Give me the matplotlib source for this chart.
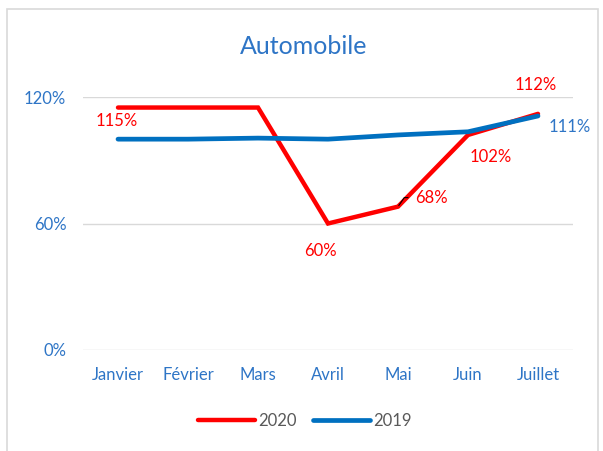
import matplotlib.pyplot as plt
from matplotlib.patches import Rectangle

mois = ['Janvier', 'Février', 'Mars', 'Avril', 'Mai', 'Juin', 'Juillet']
v2020 = [115, 115, 115, 60, 68, 102, 112]
v2019 = [100, 100, 100.5, 100, 102, 103.5, 111]
yticks = [0, 60, 120]

plt.rcParams['font.family'] = ['Lato', 'DejaVu Sans']

rouge = '#FF0000'
bleu = '#0070C0'
txt_bleu = '#2E75C6'
fs = 12

fig = plt.figure(figsize=(6.03, 4.51), dpi=100)
ax = fig.add_axes([83/603, 1-350/451, (573-83)/603, (350-97)/451])

x = range(len(mois))
ax.plot(x, v2020, color=rouge, lw=3.2, solid_capstyle='round', solid_joinstyle='miter', label='2020', zorder=3)
ax.plot(x, v2019, color=bleu, lw=3.4, solid_capstyle='round', solid_joinstyle='round', label='2019', zorder=4)

ax.set_xlim(-0.5, len(mois)-0.5)
ax.set_ylim(0, 120)
ax.set_yticks(yticks)
ax.set_yticklabels([f'{v}%' for v in yticks])
ax.set_xticks(list(x))
ax.set_xticklabels(mois)
ax.tick_params(length=0, labelsize=fs, colors=txt_bleu)
ax.tick_params(axis='x', pad=12)
ax.tick_params(axis='y', pad=12)
ax.grid(axis='y', color='#D9D9D9', lw=1)
ax.set_axisbelow(True)
for s in ax.spines.values():
    s.set_visible(False)

# etiquettes de donnees
def lab(i, vals, dx, dy, color, **kw):
    return ax.annotate(f'{round(vals[i])}%', (i, vals[i]), xytext=(dx, dy), textcoords='offset points',
                       ha='center', va='center', color=color, fontsize=fs, annotation_clip=False, **kw)

lab(0, v2020, -0.7, -9.5, rouge)
lab(3, v2020, -5.8, -20, rouge)
lab(4, v2020, 24, 6.5, rouge,
    arrowprops=dict(arrowstyle='-', color='black', lw=0.8, relpos=(0, 0.5),
                    connectionstyle='angle,angleA=180,angleB=55,rad=0', shrinkA=3, shrinkB=1))
lab(5, v2020, 16.5, -16, rouge)
lab(6, v2020, -1.5, 21, rouge)
lab(6, v2019, 23, -8, txt_bleu)

fig.text(304/603, 1-47/451, 'Automobile', ha='center', va='center', color=txt_bleu, fontsize=18)

leg = fig.legend(loc='center', bbox_to_anchor=(305/603, 1-421/451), ncol=2, frameon=False,
                 fontsize=fs, handlelength=3.4, columnspacing=1.0, handletextpad=0.2)
for t in leg.get_texts():
    t.set_color('#595959')

fig.patches.append(Rectangle((7/603, -0.05), (598-7)/603, 1.05-9/451, transform=fig.transFigure,
                             fill=False, edgecolor='#D9D9D9', lw=1.2, figure=fig))

fig.savefig('out.png', dpi=100)
